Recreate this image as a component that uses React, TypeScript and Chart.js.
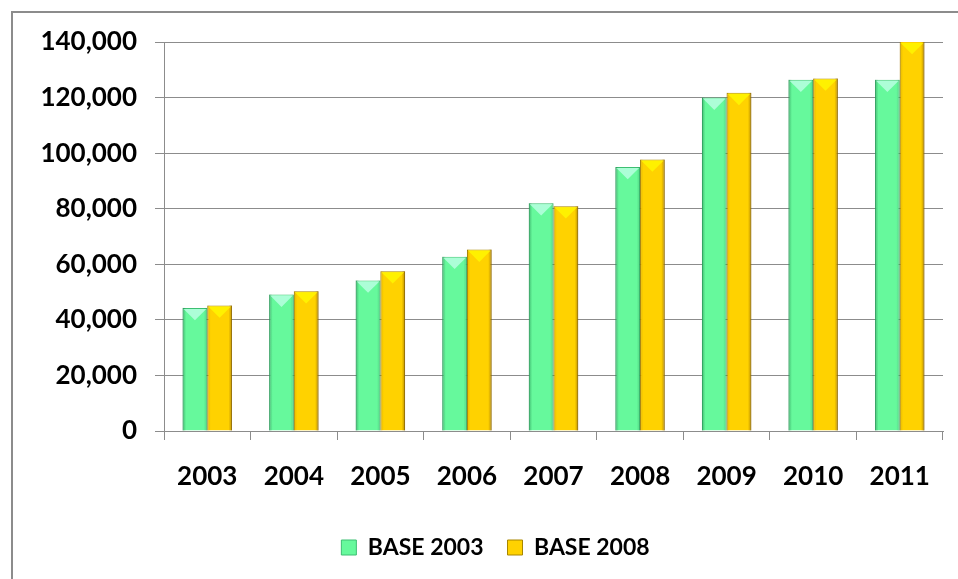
import React, { useEffect, useRef } from "react";
import { Chart, registerables } from "chart.js";

Chart.register(...registerables);

const categories = ["2003", "2004", "2005", "2006", "2007", "2008", "2009", "2010", "2011"];
const base2003 = [44300, 49100, 54200, 62700, 82000, 95000, 120000, 126400, 126400];
const base2008 = [45200, 50300, 57500, 65300, 80900, 97700, 121700, 126900, 141000];
const yTicks = [0, 20000, 40000, 60000, 80000, 100000, 120000, 140000];

const FONT = "Lato, 'Liberation Sans', sans-serif";

const legendShiftPlugin = {
  id: "legendShift",
  afterLayout(chart: any) {
    if (chart.legend) {
      chart.legend.left += 48;
    }
  },
};

const bevelPlugin = {
  id: "bevel",
  afterDatasetsDraw(chart: any) {
    const ctx = chart.ctx as CanvasRenderingContext2D;
    const area = chart.chartArea;
    ctx.save();
    ctx.beginPath();
    ctx.rect(area.left, area.top - 1, area.right - area.left, area.bottom - area.top + 1);
    ctx.clip();
    chart.data.datasets.forEach((ds: any, di: number) => {
      const meta = chart.getDatasetMeta(di);
      meta.data.forEach((bar: any) => {
        const { x, y, base, width } = bar.getProps(["x", "y", "base", "width"], true);
        const l = x - width / 2;
        const r = x + width / 2;
        const top = Math.max(y, area.top);
        const h = base - top;
        if (h <= 0) return;
        const g = ctx.createLinearGradient(l, 0, r, 0);
        if (di === 0) {
          g.addColorStop(0, "rgba(20,110,60,0.45)");
          g.addColorStop(0.14, "rgba(20,110,60,0.0)");
          g.addColorStop(0.86, "rgba(20,110,60,0.0)");
          g.addColorStop(1, "rgba(20,110,60,0.25)");
        } else {
          g.addColorStop(0, "rgba(150,100,0,0.25)");
          g.addColorStop(0.14, "rgba(150,100,0,0.0)");
          g.addColorStop(0.86, "rgba(150,100,0,0.0)");
          g.addColorStop(1, "rgba(120,80,0,0.55)");
        }
        ctx.fillStyle = g;
        ctx.fillRect(l, top, width, h);
        const bh = Math.min(width * 0.5, h);
        ctx.beginPath();
        ctx.moveTo(l + 1, top + 1);
        ctx.lineTo(r - 1, top + 1);
        ctx.lineTo(x, top + bh);
        ctx.closePath();
        ctx.fillStyle = di === 0 ? "rgba(190,255,230,0.8)" : "rgba(255,242,0,0.95)";
        ctx.fill();
      });
    });
    ctx.restore();
  },
};

export default function App() {
  const canvasRef = useRef<HTMLCanvasElement | null>(null);

  useEffect(() => {
    if (!canvasRef.current) return;
    const chart = new Chart(canvasRef.current, {
      type: "bar",
      data: {
        labels: categories,
        datasets: [
          {
            label: "BASE 2003",
            data: base2003,
            backgroundColor: "#66F99C",
            borderColor: "#3DBF72",
            borderWidth: 1,
            categoryPercentage: 0.57,
            barPercentage: 1.0,
          },
          {
            label: "BASE 2008",
            data: base2008,
            backgroundColor: "#FFD200",
            borderColor: "#A88600",
            borderWidth: 1,
            categoryPercentage: 0.57,
            barPercentage: 1.0,
          },
        ],
      },
      plugins: [bevelPlugin, legendShiftPlugin],
      options: {
        animation: false,
        responsive: false,
        maintainAspectRatio: false,
        layout: { padding: { top: 42, right: 15, left: 0, bottom: 10 } },
        plugins: {
          legend: {
            position: "bottom",
            labels: {
              font: { family: FONT, size: 23, weight: "bold" },
              color: "#000",
              boxWidth: 15,
              boxHeight: 15,
              padding: 24,
            },
          },
          tooltip: { enabled: false },
        },
        scales: {
          x: {
            grid: {
              display: true,
              drawOnChartArea: false,
              drawTicks: true,
              tickLength: 9,
              color: "#8c8c8c",
              offset: true,
            },
            border: { display: true, color: "#8c8c8c" },
            ticks: {
              font: { family: FONT, size: 26, weight: "bold" },
              color: "#000",
              padding: 21,
              maxRotation: 0,
            },
            afterFit: (s: any) => {
              s.height = 81;
            },
          },
          y: {
            min: 0,
            max: 140000,
            afterBuildTicks: (s: any) => {
              s.ticks = yTicks.map((v) => ({ value: v }));
            },
            grid: { color: "#8c8c8c", tickLength: 9, lineWidth: 1 },
            border: { display: true, color: "#8c8c8c" },
            ticks: {
              font: { family: FONT, size: 26, weight: "bold" },
              color: "#000",
              padding: 18,
              callback: (v: any) => Number(v).toLocaleString("en-US"),
            },
            afterFit: (s: any) => {
              s.width = 164;
            },
          },
        },
      },
    } as any);
    return () => chart.destroy();
  }, []);

  return (
    <div
      style={{
        position: "fixed",
        left: 0,
        top: 0,
        width: 958,
        height: 579,
        overflow: "hidden",
        background: "#fff",
      }}
    >
      <div
        style={{
          position: "absolute",
          left: 11,
          top: 11,
          width: 980,
          height: 600,
          border: "2px solid #8c8c8c",
        }}
      />
      <canvas
        ref={canvasRef}
        width={958}
        height={579}
        style={{ position: "absolute", left: 0, top: 0, width: 958, height: 579 }}
      />
    </div>
  );
}
